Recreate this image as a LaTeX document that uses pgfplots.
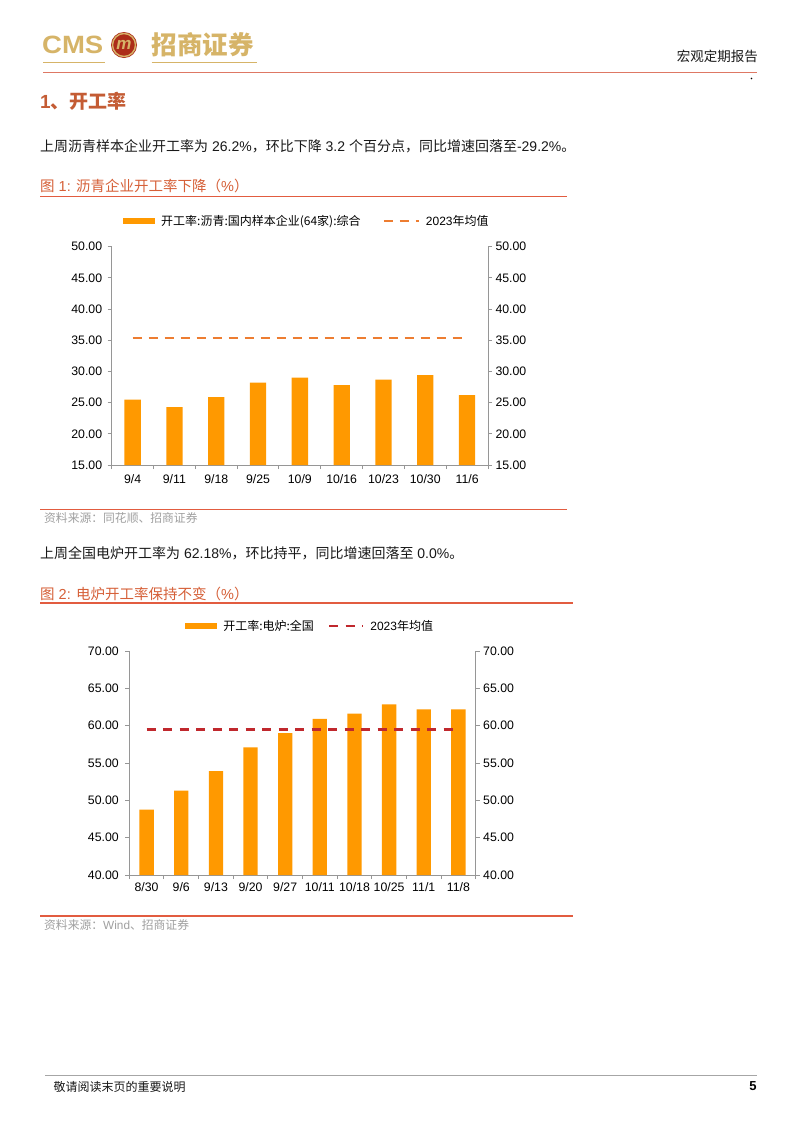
\documentclass[border=0pt]{standalone}
\usepackage{fontspec}
\setmainfont{Liberation Sans}
\newfontfamily\cjk{Noto Sans CJK SC}
\usepackage{pgfplots}
\pgfplotsset{compat=1.18}
\definecolor{barorange}{RGB}{255,153,0}
\definecolor{dashone}{RGB}{237,125,49}
\definecolor{dashtwo}{RGB}{192,40,45}
\definecolor{axgray}{RGB}{150,150,150}
\definecolor{gold}{RGB}{214,180,104}
\definecolor{emblemred}{RGB}{172,45,25}
\definecolor{hdrred}{RGB}{222,120,100}
\definecolor{titlecol}{RGB}{196,92,52}
\definecolor{titlered}{RGB}{214,96,56}
\definecolor{rulered}{RGB}{226,92,64}
\definecolor{srcgray}{RGB}{160,160,160}
\definecolor{textblack}{RGB}{25,25,25}
\newcommand{\fs}[1]{\fontsize{#1}{#1}\selectfont}
\pgfplotsset{
  /pgf/number format/assume math mode=true,
  common/.style={
    scale only axis, anchor=south west,
    axis line style={draw=axgray, line width=0.9pt},
    tick style={draw=axgray, line width=0.9pt},
    tick align=outside, major tick length=4pt, minor tick length=4pt,
    ticklabel style={font=\fs{12.3}, text=black},
    y tick label style={/pgf/number format/.cd, fixed, fixed zerofill, precision=2, /tikz/.cd},
    clip=false,
  },
  barleg/.style={legend image code/.code={\fill[barorange] (0pt,-3pt) rectangle (32pt,3pt);}},
  dashoneleg/.style={legend image code/.code={\draw[dashone, line width=2.3pt, dash pattern=on 9pt off 7pt] (0pt,0pt) -- (35pt,0pt);}},
  dashtwoleg/.style={legend image code/.code={\draw[dashtwo, line width=2.4pt, dash pattern=on 9pt off 7.5pt] (0pt,0pt) -- (34pt,0pt);}},
}
\begin{document}
\begin{tikzpicture}
\fill[white] (0pt,0pt) rectangle (802pt,-1133pt);
\useasboundingbox (0pt,0pt) rectangle (802pt,-1133pt);
\begin{scope}[x=1pt,y=-1pt]
% header
\node[anchor=west,inner sep=0,text=gold] at (42,44.5) {\scalebox{1.1}[1]{\fs{25}\bfseries CMS}};
\fill[emblemred] (124,45) circle (13);
\draw[gold, line width=1.4pt] (124,45) circle (11.5);
\node[text=gold,inner sep=0] at (124,45) {\fs{17}\bfseries\itshape m};
\node[anchor=west,inner sep=0,text=gold] at (151.7,45) {\cjk\fs{25.5}\bfseries 招商证券};
\draw[gold, line width=1.2pt] (43,62.7) -- (105,62.7);
\draw[gold, line width=1.2pt] (151.7,62.7) -- (256.7,62.7);
\draw[hdrred, line width=0.9pt] (43,72.5) -- (757,72.5);
\node[anchor=east,inner sep=0,text=textblack] at (758,56.5) {\cjk\fs{13.5} 宏观定期报告};
\fill[black] (751.5,78.5) circle (0.9);
% section
\node[anchor=west,inner sep=0,text=titlecol] at (40,101) {\fs{19}\bfseries 1{\cjk 、开工率}};
\node[anchor=west,inner sep=0,text=textblack] at (40,146) {\fs{14}{\cjk 上周沥青样本企业开工率为} 26.2\%{\cjk ，环比下降} 3.2 {\cjk 个百分点，同比增速回落至}-29.2\%{\cjk 。}};
\node[anchor=west,inner sep=0,text=titlered] at (40,186) {\fs{14.5}{\cjk 图} 1: {\cjk 沥青企业开工率下降（}\%{\cjk ）}};
\draw[rulered, line width=1.1pt] (40,196.5) -- (567,196.5);
\draw[rulered, line width=1.1pt] (40,509.5) -- (567,509.5);
\node[anchor=west,inner sep=0,text=srcgray] at (44,518.5) {\fs{11.8}\cjk 资料来源：同花顺、招商证券};
\node[anchor=west,inner sep=0,text=textblack] at (40,553.5) {\fs{14}{\cjk 上周全国电炉开工率为} 62.18\%{\cjk ，环比持平，同比增速回落至} 0.0\%{\cjk 。}};
\node[anchor=west,inner sep=0,text=titlered] at (40,593.5) {\fs{14.5}{\cjk 图} 2: {\cjk 电炉开工率保持不变（}\%{\cjk ）}};
\draw[rulered, line width=1.1pt] (40,603) -- (573,603);
\draw[rulered, line width=1.1pt] (40,916) -- (573,916);
\node[anchor=west,inner sep=0,text=srcgray] at (44,925) {\fs{11.8}{\cjk 资料来源：}Wind{\cjk 、招商证券}};
% footer
\draw[gray!70, line width=0.8pt] (45,1075) -- (757,1075);
\node[anchor=west,inner sep=0,text=textblack] at (50.7,1087) {\cjk\fs{12} 敬请阅读末页的重要说明};
\node[inner sep=0] at (753,1086) {\fs{13}\bfseries 5};
\end{scope}

% ---------- chart 1 ----------
\begin{axis}[common,
  at={(111.7pt,-465pt)}, width=376.3pt, height=218.3pt,
  xmin=-0.5, xmax=8.5, ymin=15, ymax=50,
  axis x line*=bottom, axis y line*=left,
  xtick={0,...,8}, xticklabels={9/4,9/11,9/18,9/25,10/9,10/16,10/23,10/30,11/6},
  minor xtick={-0.5,0.5,...,8.5},
  major x tick style={draw=none},
  x tick label style={yshift=-2pt},
  ytick={15,20,...,50},
  y tick label style={xshift=-2pt},
  legend style={at={(0.03,1.119)}, anchor=west, draw=none, fill=none,
    legend columns=2, font=\fs{12}, inner sep=0pt,
    /tikz/every odd column/.append style={column sep=4pt},
    /tikz/every even column/.append style={column sep=20pt}},
]
\addplot[ybar, bar width=16.3pt, fill=barorange, draw=none, barleg]
  coordinates {(0,25.5) (1,24.3) (2,25.9) (3,28.2) (4,29.0) (5,27.8) (6,28.7) (7,29.4) (8,26.2)};
\addlegendentry{\cjk 开工率:沥青:国内样本企业(64家):综合}
\addplot[dashone, line width=2.3pt, dash pattern=on 9pt off 7pt, dashoneleg]
  coordinates {(0,35.4) (1,35.4) (2,35.4) (3,35.4) (4,35.4) (5,35.4) (6,35.4) (7,35.4) (8,35.4)};
\addlegendentry{2023{\cjk 年均值}}
\end{axis}
\begin{axis}[common,
  at={(111.7pt,-465pt)}, width=376.3pt, height=218.3pt,
  xmin=-0.5, xmax=8.5, ymin=15, ymax=50,
  axis x line=none, axis y line*=right, yticklabel pos=right,
  ytick={15,20,...,50},
]
\addplot[draw=none] coordinates {(0,20)};
\end{axis}

% ---------- chart 2 ----------
\begin{axis}[common,
  at={(129.3pt,-875pt)}, width=346.4pt, height=224pt,
  xmin=-0.5, xmax=9.5, ymin=40, ymax=70,
  axis x line*=bottom, axis y line*=left,
  xtick={0,...,9}, xticklabels={8/30,9/6,9/13,9/20,9/27,10/11,10/18,10/25,11/1,11/8},
  minor xtick={-0.5,0.5,...,9.5},
  major x tick style={draw=none},
  ytick={40,45,...,70},
  y tick label style={xshift=-3pt},
  legend style={at={(0.161,1.113)}, anchor=west, draw=none, fill=none,
    legend columns=2, font=\fs{12}, inner sep=0pt,
    /tikz/every odd column/.append style={column sep=4pt},
    /tikz/every even column/.append style={column sep=12pt}},
]
\addplot[ybar, bar width=14.3pt, fill=barorange, draw=none, barleg]
  coordinates {(0,48.75) (1,51.3) (2,53.9) (3,57.1) (4,59.0) (5,60.9) (6,61.6) (7,62.85) (8,62.18) (9,62.18)};
\addlegendentry{\cjk 开工率:电炉:全国}
\addplot[dashtwo, line width=2.4pt, dash pattern=on 9pt off 7.5pt, dashtwoleg]
  coordinates {(0,59.5) (1,59.5) (2,59.5) (3,59.5) (4,59.5) (5,59.5) (6,59.5) (7,59.5) (8,59.5) (9,59.5)};
\addlegendentry{2023{\cjk 年均值}}
\end{axis}
\begin{axis}[common,
  at={(129.3pt,-875pt)}, width=346.4pt, height=224pt,
  xmin=-0.5, xmax=9.5, ymin=40, ymax=70,
  axis x line=none, axis y line*=right, yticklabel pos=right,
  ytick={40,45,...,70},
]
\addplot[draw=none] coordinates {(0,50)};
\end{axis}
\end{tikzpicture}
\end{document}
